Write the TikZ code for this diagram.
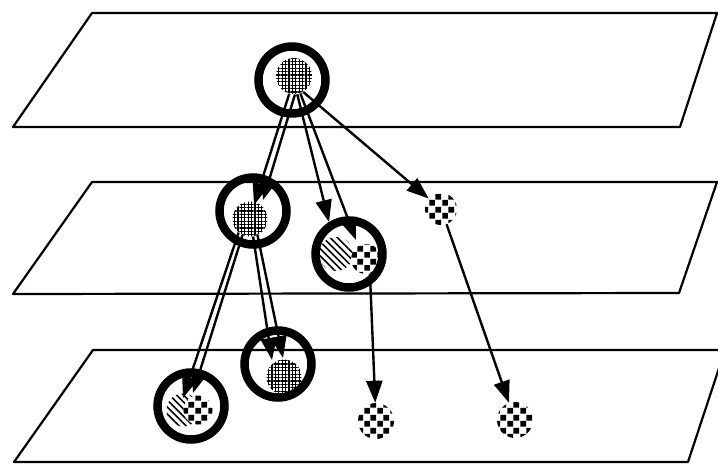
\documentclass[tikz,border=0pt]{standalone}
\usepackage{tikz}
\usetikzlibrary{arrows.meta,patterns.meta}

% checker cells for the loose clusters
\pgfdeclarepattern{
  name=cells,
  type=uncolored,
  bottom left={\pgfpoint{0pt}{0pt}},
  top right={\pgfpoint{13pt}{13pt}},
  tile size={\pgfpoint{13pt}{13pt}},
  code={
    \pgfpathrectangle{\pgfpoint{0.3pt}{0.3pt}}{\pgfpoint{6pt}{6pt}}
    \pgfpathrectangle{\pgfpoint{6.8pt}{6.8pt}}{\pgfpoint{6pt}{6pt}}
    \pgfusepath{fill}
  }
}

\begin{document}
\begin{tikzpicture}[x=1pt,y=-1pt,
  plane/.style={draw, line width=2.2pt, line join=round},
  ring/.style={circle, draw, line width=8.5pt, minimum size=67pt, inner sep=0pt},
  mesh/.style={circle, minimum size=#1, inner sep=0pt,
    pattern={Hatch[angle=0,distance=3.4pt,line width=1.1pt]}},
  hatched/.style={circle, minimum size=#1, inner sep=0pt,
    pattern={Lines[angle=-45,distance=5pt,line width=1.6pt]}},
  cluster/.style={circle, minimum size=#1, inner sep=0pt,
    preaction={fill=white}, pattern=cells},
  link/.style={line width=2.4pt, -{Triangle[length=22pt,width=16pt]}}
]

  \clip (0,0) rectangle (718,466);

  % the three layers
  \draw[plane] (92,13) -- (717,13) -- (680,127) -- (13,127) -- cycle;
  \draw[plane] (92,182) -- (717,182) -- (679,293) -- (13,294) -- cycle;
  \draw[plane] (93,350) -- (725,350) -- (688,462) -- (14,462) -- cycle;

  % what sits inside the rings
  \node[mesh=36pt] (d0) at (294,76) {};
  \node[mesh=35pt] (d1) at (250,219) {};
  \node[mesh=35pt] (d3) at (284,377) {};
  \node[hatched=34pt] (h2) at (336,254) {};
  \node[cluster=30pt] (k2) at (366,259) {};
  \node[hatched=33pt] (h4) at (183,410) {};
  \node[cluster=29pt] (k4) at (198,410) {};

  % loose clusters
  \node[cluster=32pt] (c1) at (441,209) {};
  \node[cluster=36pt] (c2) at (376,421) {};
  \node[cluster=36pt] (c3) at (515,420) {};

  % arrow tips inside the rings
  \coordinate (t0a) at (254,205);
  \coordinate (t0b) at (263,200);
  \coordinate (t0c) at (329,222);
  \coordinate (t0d) at (356,240);
  \coordinate (t1a) at (183,398);
  \coordinate (t1b) at (193,393);
  \coordinate (t1c) at (272,360);
  \coordinate (t1d) at (283,358);

  \path[link] (d0.-105) edge (t0a);
  \path[link] (d0.-87) edge (t0b);
  \path[link] (d0.-80) edge (t0c);
  \path[link] (d0.-70) edge (t0d);
  \path[link] (d0.-60) edge (c1);
  \path[link] (d1.-130) edge (t1a);
  \path[link] (d1.-115) edge (t1b);
  \path[link] (d1.-80) edge (t1c);
  \path[link] (d1.-65) edge (t1d);
  \path[link] (k2.-75) edge (c2);
  \path[link] (c1.-70) edge (c3);

  % rings on top
  \node[ring] (r0) at (292,80) {};
  \node[ring] (r1) at (253,211) {};
  \node[ring] (r2) at (349,254) {};
  \node[ring] (r3) at (278,364) {};
  \node[ring] (r4) at (191,406) {};

\end{tikzpicture}
\end{document}
